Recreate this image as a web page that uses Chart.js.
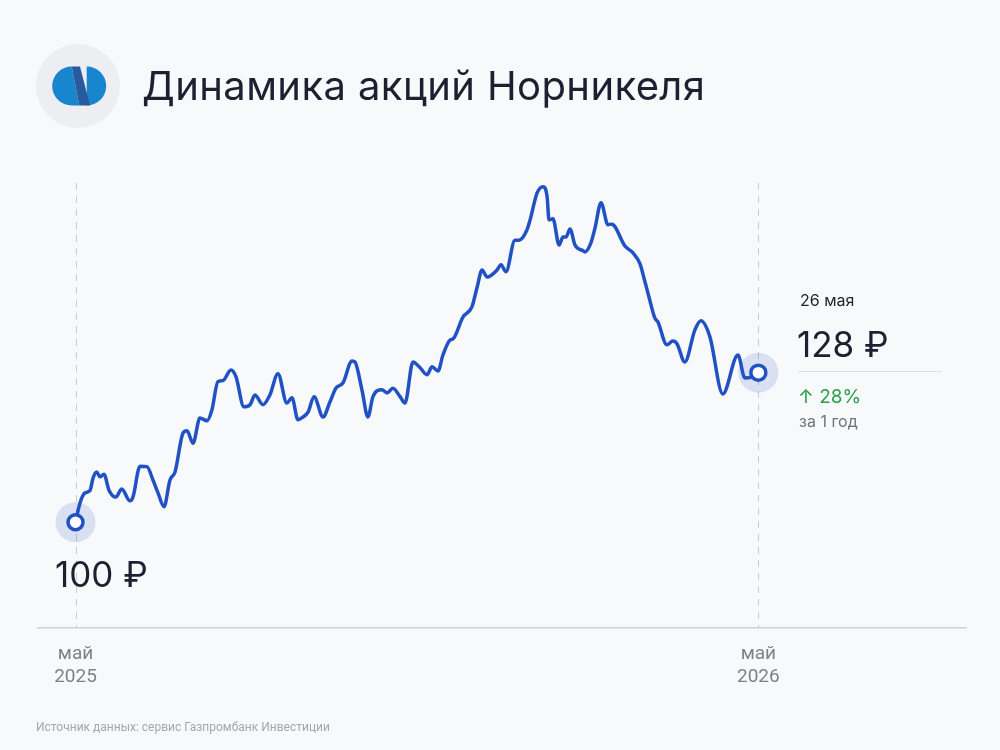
<!DOCTYPE html>
<html lang="ru">
<head>
<meta charset="utf-8">
<title>Динамика акций Норникеля</title>
<script src="https://cdn.jsdelivr.net/npm/chart.js@4.4.1/dist/chart.umd.min.js"></script>
<style>
  html, body { margin: 0; padding: 0; background: #f8f9fb; }
  #wrap { position: relative; width: 1000px; height: 750px; overflow: hidden; font-family: Inter, "Noto Sans", sans-serif; }
  #chart { position: absolute; left: 0; top: 0; }
  .logo { position: absolute; left: 36px; top: 44px; width: 84px; height: 84px; border-radius: 50%; background: #eceef2; }
  .logo svg { position: absolute; left: 0; top: 0; }
  .txt { position: absolute; white-space: nowrap; line-height: 1; }
  .title { left: 142px; top: 66px; font-size: 40px; letter-spacing: 0.4px; color: #1d2030; }
  .big { font-size: 35px; color: #1d2030; }
  .date { left: 800px; top: 292px; font-size: 16px; color: #23252d; }
  .sep { position: absolute; left: 798px; top: 371px; width: 144px; height: 1px; background: #dcdfe4; }
  .chg { left: 798px; top: 387px; font-size: 19px; color: #27a046; }
  .per { left: 799px; top: 413px; font-size: 16px; color: #6e737b; }
  .src { left: 36px; top: 721px; font-family: Roboto, sans-serif; font-size: 12px; color: #a3a7ae; }
</style>
</head>
<body>
<div id="wrap">
  <canvas id="chart" width="1000" height="750"></canvas>
  <div class="logo">
    <svg width="84" height="84" viewBox="0 0 84 84">
      <path d="M35.7,22.5 A19.5,19.5 0 0 0 35.7,61.5 L43.3,61.5 Z" fill="#1786cf"/>
      <path d="M50.7,22.5 A19.5,19.5 0 0 1 50.7,61.5 Z" fill="#1786cf"/>
      <polygon points="35.7,22.5 44,22.5 54,61.5 43.3,61.5" fill="#2a5a9e"/>
    </svg>
  </div>
  <div class="txt title">Динамика акций Норникеля</div>
  <div class="txt big" style="left:55px; top:557px;">100 ₽</div>
  <div class="txt date">26 мая</div>
  <div class="txt big" style="left:797px; top:327px;">128 ₽</div>
  <div class="sep"></div>
  <div class="txt chg">↑ 28%</div>
  <div class="txt per">за 1 год</div>
  <div class="txt src">Источник данных: сервис Газпромбанк Инвестиции</div>
</div>
<script>
// days since 26 May 2025 and share price, rub
const days = [0, 2.4, 5.1, 7.7, 9.4, 11.3, 13.1, 15.2, 17.9, 21.6, 24.7, 29.1, 30.7, 34.5, 38.2, 41.4, 44.1, 47.3, 50.5, 53.2,
  57.5, 59.6, 62.8, 66.5, 70.3, 72.9, 76.1, 78.8, 83.1, 85.8, 90.0, 93.3, 95.9, 100.2, 103.9, 108.2, 113.0, 115.7, 118.9, 121.6,
  124.3, 127.5, 132.3, 136.0, 139.2, 143.0, 147.8, 149.4, 153.1, 156.3, 159.0, 163.8, 166.5, 169.7, 173.5, 176.1, 180.4, 184.2, 187.9, 190.6,
  193.8, 196.4, 200.2, 201.8, 207.1, 211.9, 214.6, 217.3, 220.0, 225.3, 227.4, 230.1, 234.9, 237.1, 241.3, 243.0, 246.7, 249.9, 252.1, 253.1,
  255.2, 258.5, 260.6, 262.2, 264.3, 267.0, 271.3, 272.3, 275.5, 277.7, 280.9, 284.6, 286.7, 293.7, 298.0, 301.7, 304.4, 306.5, 309.7, 311.3,
  316.1, 319.3, 321.5, 325.7, 331.1, 334.3, 339.1, 346.0, 354.1, 357.8, 361.5, 365];
const prices = [100.0, 103.6, 105.5, 105.9, 108.3, 109.4, 108.5, 109.0, 106.0, 104.7, 106.2, 104.0, 104.7, 110.5, 110.4, 107.9, 105.5, 102.9, 107.9, 109.4,
  116.7, 117.1, 114.8, 119.5, 119.0, 121.0, 126.3, 126.5, 128.5, 127.2, 121.6, 122.0, 123.8, 122.0, 123.8, 127.8, 122.3, 123.3, 119.2, 119.7,
  120.6, 123.5, 119.7, 122.5, 125.1, 126.1, 130.2, 130.0, 124.8, 119.7, 123.5, 124.8, 124.2, 125.1, 123.5, 122.3, 130.0, 128.9, 127.6, 129.1,
  128.3, 131.3, 134.1, 134.3, 138.4, 140.3, 143.9, 147.2, 145.9, 147.2, 148.2, 146.9, 152.8, 152.8, 154.7, 156.6, 161.6, 162.8, 160.9, 156.6,
  156.8, 151.9, 153.4, 153.4, 154.9, 151.9, 150.8, 150.6, 152.3, 155.1, 159.8, 155.7, 155.8, 151.7, 150.4, 148.4, 145.0, 142.2, 138.2, 137.5,
  133.2, 133.9, 133.4, 130.0, 136.0, 137.7, 134.7, 124.0, 131.3, 127.0, 127.2, 128.0];
const tickDays = [0, 365];
const tickLabels = [['май', '2025'], ['май', '2026']];

const lineColor = '#2152c4';
const haloColor = 'rgba(33, 82, 196, 0.15)';
const last = days.length - 1;

const guideLines = {
  id: 'guideLines',
  beforeDatasetsDraw(chart) {
    const {ctx, chartArea, scales: {x}} = chart;
    ctx.save();
    ctx.strokeStyle = '#c8cbd1';
    ctx.lineWidth = 1;
    ctx.setLineDash([7, 6]);
    tickDays.forEach(d => {
      const px = Math.round(x.getPixelForValue(d)) + 0.5;
      ctx.beginPath();
      ctx.moveTo(px, chartArea.top + 35);
      ctx.lineTo(px, chartArea.bottom);
      ctx.stroke();
    });
    ctx.restore();
  }
};

new Chart(document.getElementById('chart'), {
  type: 'line',
  data: {
    datasets: [{
      data: days.map((d, i) => ({x: d, y: prices[i]})),
      borderColor: lineColor,
      borderWidth: 3.5,
      cubicInterpolationMode: 'monotone',
      pointRadius: (ctx) => (ctx.dataIndex === 0 || ctx.dataIndex === last) ? 7.5 : 0,
      pointBackgroundColor: '#fff',
      pointBorderColor: lineColor,
      pointBorderWidth: 3.5,
      clip: false
    }, {
      data: [{x: days[0], y: prices[0]}, {x: days[last], y: prices[last]}],
      showLine: false,
      pointRadius: 20,
      pointBackgroundColor: haloColor,
      pointBorderWidth: 0,
      clip: false
    }]
  },
  options: {
    responsive: false,
    animation: false,
    layout: {
      padding: {top: 148, left: 38, right: 34, bottom: 0}
    },
    plugins: {
      legend: {display: false},
      tooltip: {enabled: false}
    },
    scales: {
      x: {
        type: 'linear',
        min: -20.05,
        max: 476,
        afterBuildTicks: (scale) => {
          scale.ticks = tickDays.map(v => ({value: v}));
        },
        afterFit: (scale) => {
          scale.height = 122;
        },
        grid: {display: false, drawTicks: false},
        border: {display: true, color: '#cdd0d6', width: 1.5},
        ticks: {
          autoSkip: false,
          maxRotation: 0,
          padding: 14,
          color: '#7c818a',
          font: {family: 'Roboto', size: 19, lineHeight: 1.25},
          callback: (value) => tickLabels[tickDays.indexOf(value)]
        }
      },
      y: {
        display: false,
        min: 80.2,
        max: 170.05
      }
    }
  },
  plugins: [guideLines]
});
</script>
</body>
</html>
